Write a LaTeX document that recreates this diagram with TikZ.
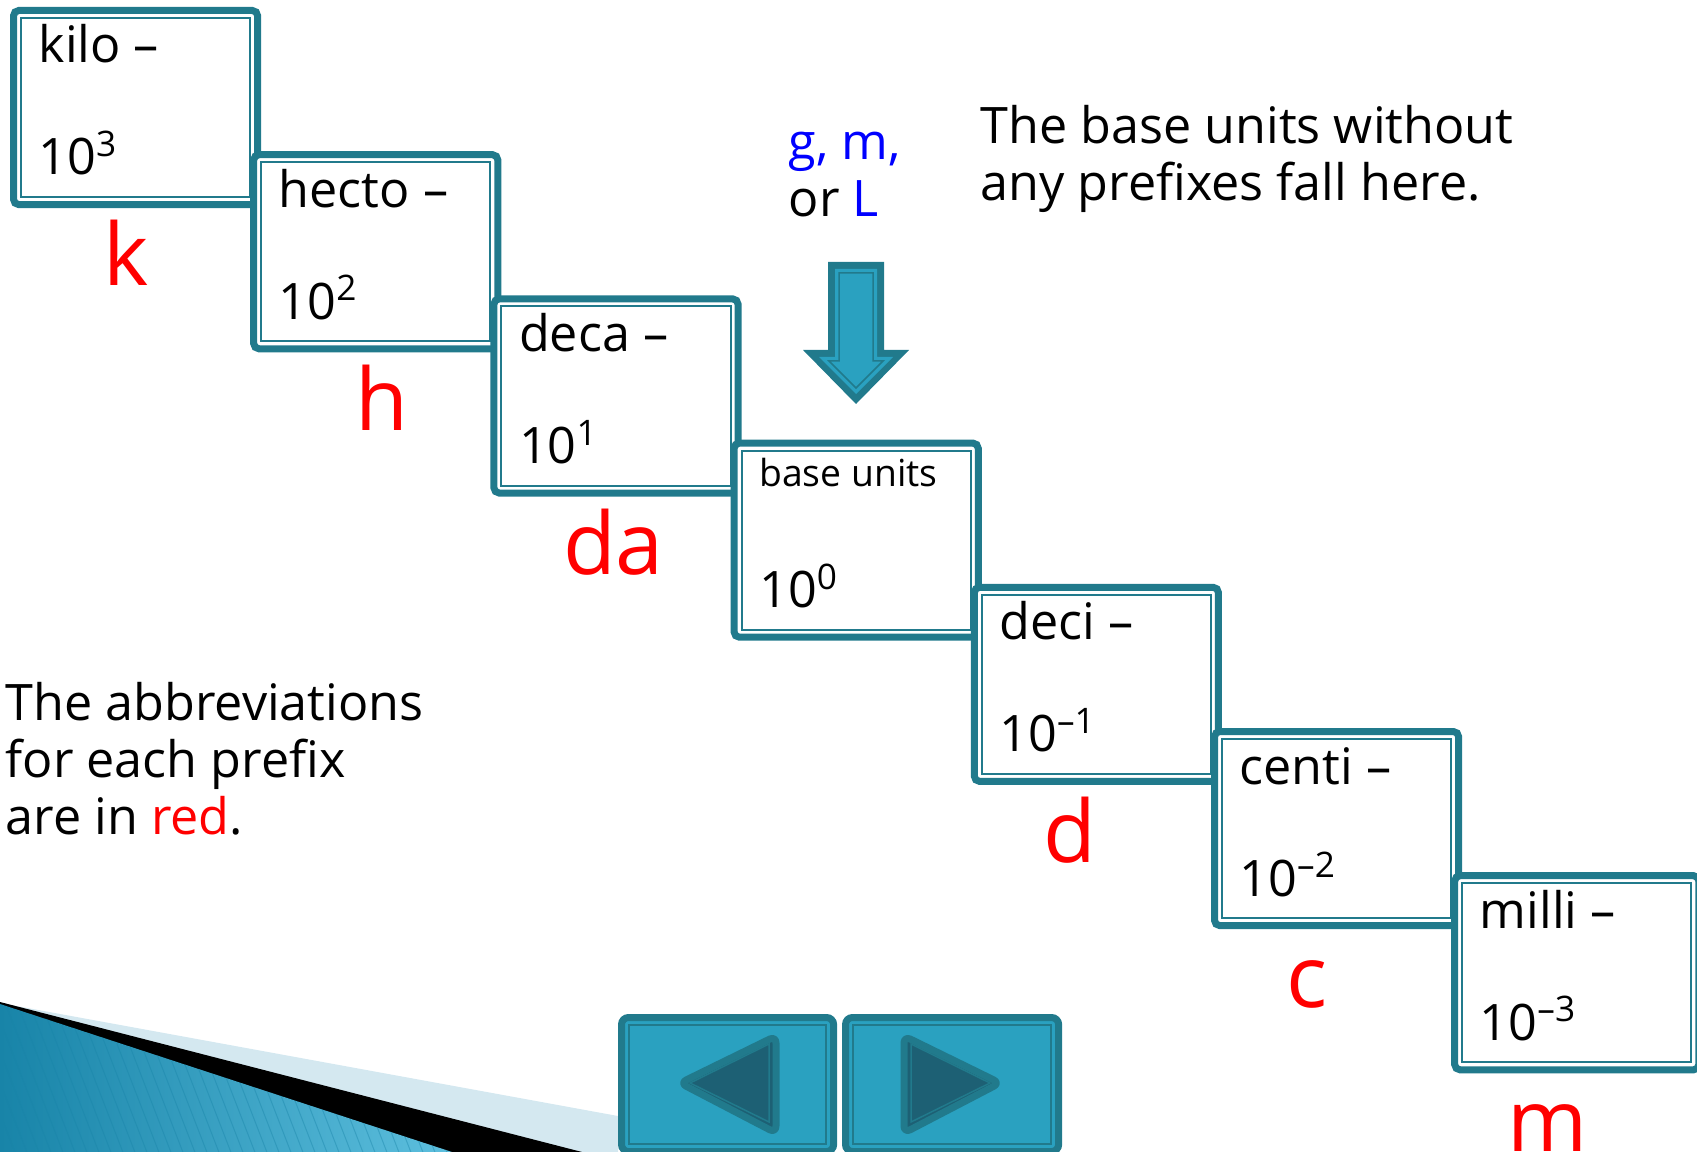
\documentclass[tikz,border=0pt]{standalone}
\usepackage{fontspec}
\setmainfont{Open Sans}
\usetikzlibrary{positioning}
\definecolor{boxteal}{HTML}{217A8C}
\definecolor{navfill}{HTML}{2AA1C0}
\definecolor{navdark}{HTML}{1D6074}
\definecolor{paleband}{HTML}{D4E8F0}
\definecolor{wedgedark}{HTML}{1884A8}
\definecolor{wedgelight}{HTML}{5DBFDE}
\begin{document}
\begin{tikzpicture}[
    x=0.01cm, y=-0.01cm,
    prefix box/.style={draw=boxteal, fill=white, line width=0.07cm, rounded corners=1.5pt,
        minimum width=2.44cm, minimum height=1.94cm, inner sep=0pt, anchor=north west},
    inner rule/.style={draw=boxteal, line width=0.02cm},
    body text/.style={anchor=base west, inner sep=0pt, font=\fontsize{14.3}{16.2}\selectfont},
    small text/.style={anchor=base west, inner sep=0pt, font=\fontsize{10.6}{12.7}\selectfont},
    abbrev/.style={anchor=base, inner sep=0pt, text=red, font=\fontsize{24.5}{29}\selectfont},
    nav button/.style={draw=boxteal, fill=navfill, line width=0.07cm, rounded corners=2pt,
        minimum height=1.34cm, inner sep=0pt, anchor=north west}
]
\useasboundingbox (0,0) rectangle (1697,1152);
\clip (0,0) rectangle (1697,1152);

\fill[paleband] (0,1003) -- (618,1116) -- (618,1152) -- (0,1152) -- cycle;
\fill[black] (0,1002) -- (582,1152) -- (0,1152) -- cycle;
\shade[left color=wedgedark, right color=wedgelight] (0,1004) -- (452,1152) -- (0,1152) -- cycle;
\begin{scope}
    \clip (0,1004) -- (452,1152) -- (0,1152) -- cycle;
    \foreach \s in {-80,-68,...,460}
        \draw[wedgedark, opacity=0.4, line width=0.01cm] (\s,1000) -- ++(60,155);
\end{scope}

\foreach \name/\pw [count=\i from 0] in {kilo/3, hecto/2, deca/1, base/0,
        deci/\textendash1, centi/\textendash2, milli/\textendash3} {
    \node[prefix box] (\name) at ({10+240.2*\i},{7+144.2*\i}) {};
    \draw[inner rule] ([shift={(11,11)}]\name.north west) rectangle ([shift={(-11,-11)}]\name.south east);
    \node[body text] (\name-exp) at ([shift={(28,168)}]\name.north west) {10\textsuperscript{\pw}};
}

\node[body text] (kilo-lbl) at ([shift={(28,56)}]kilo.north west) {kilo --};
\node[body text] (hecto-lbl) at ([shift={(28,56)}]hecto.north west) {hecto --};
\node[body text] (deca-lbl) at ([shift={(28,56)}]deca.north west) {deca --};
\node[small text] (base-lbl) at ([shift={(28,47)}]base.north west) {base units};
\node[body text] (deci-lbl) at ([shift={(28,56)}]deci.north west) {deci --};
\node[body text] (centi-lbl) at ([shift={(28,56)}]centi.north west) {centi --};
\node[body text] (milli-lbl) at ([shift={(28,56)}]milli.north west) {milli --};

\node[abbrev] (kilo-ab) at ([shift={(116,279)}]kilo.north west) {k};
\node[abbrev] (hecto-ab) at ([shift={(132,279)}]hecto.north west) {h};
\node[abbrev] (deca-ab) at ([shift={(123,279)}]deca.north west) {da};
\node[abbrev] (deci-ab) at ([shift={(99,279)}]deci.north west) {d};
\node[abbrev] (centi-ab) at ([shift={(96,279)}]centi.north west) {c};
\node[abbrev] (milli-ab) at ([shift={(96,279)}]milli.north west) {m};

\fill[boxteal] (828,262) -- (884,262) -- (884,350) -- (909,350) -- (856,404) -- (803,350) -- (828,350) -- cycle;
\fill[navfill] (835,269) -- (877,269) -- (877,357) -- (893,357) -- (856,394) -- (819,357) -- (835,357) -- cycle;
\draw[boxteal, line width=0.015cm] (839,273) -- (873,273) -- (873,361) -- (883,361) -- (856,388) -- (829,361) -- (839,361) -- cycle;

\node[body text] (units-top) at (788,160) {\textcolor{blue}{g, m,}};
\node[body text] (units-bot) at (788,217) {or \textcolor{blue}{L}};
\node[body text] (note-top) at (980,144) {The base units without};
\node[body text] (note-bot) at (980,201) {any prefixes fall here.};

\node[body text] (abbr-1) at (5,720) {The abbreviations};
\node[body text] (abbr-2) at (5,777) {for each prefix};
\node[body text] (abbr-3) at (5,834) {are in \textcolor{red}{red}.};

\node[nav button, minimum width=2.12cm] (back) at (618,1014) {};
\node[nav button, minimum width=2.13cm] (next) at (842,1014) {};
\draw[inner rule] ([shift={(11,11)}]back.north west) rectangle ([shift={(-11,-11)}]back.south east);
\draw[inner rule] ([shift={(11,11)}]next.north west) rectangle ([shift={(-11,-11)}]next.south east);
\draw[boxteal, fill=navdark, line width=0.07cm, line join=round, rounded corners=2pt]
    (680,1083) -- (776,1036) -- (776,1133) -- cycle;
\draw[boxteal, line width=0.015cm] (690,1083) -- (769,1044) -- (769,1122) -- cycle;
\draw[boxteal, fill=navdark, line width=0.07cm, line join=round, rounded corners=2pt]
    (904,1036) -- (904,1133) -- (1000,1083) -- cycle;
\draw[boxteal, line width=0.015cm] (911,1044) -- (911,1122) -- (990,1083) -- cycle;
\end{tikzpicture}
\end{document}
